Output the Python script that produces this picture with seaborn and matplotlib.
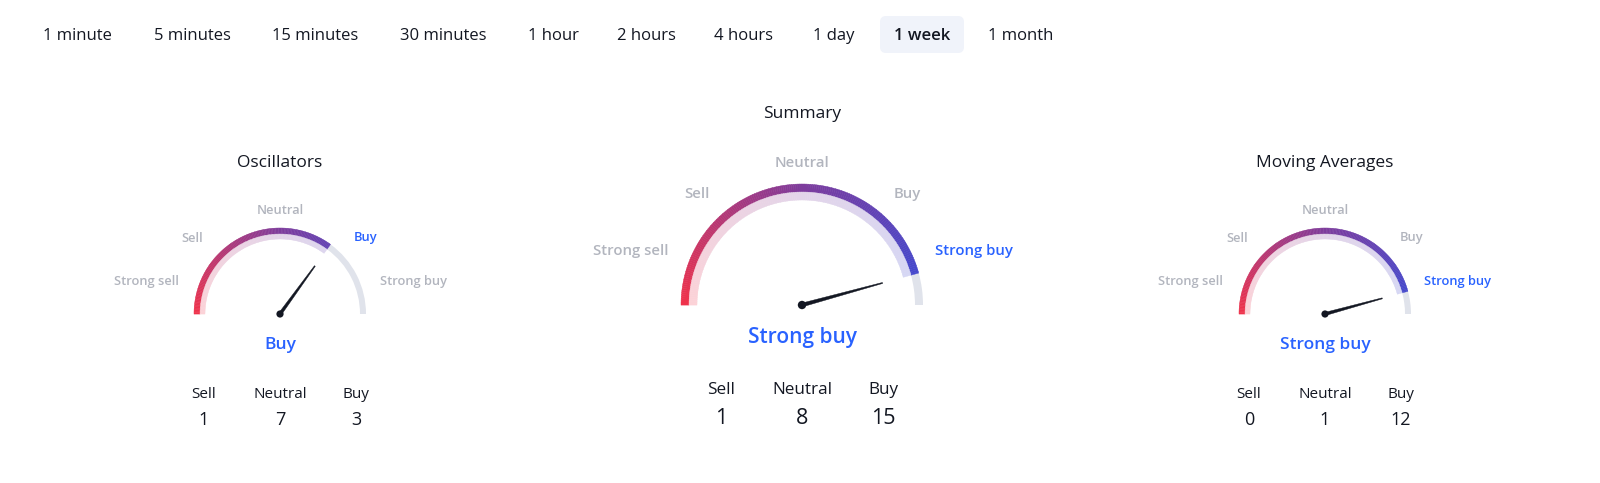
import numpy as np
import matplotlib
matplotlib.use("Agg")
import matplotlib.pyplot as plt
from matplotlib.patches import Wedge, Circle, Polygon, FancyBboxPatch
import seaborn as sns

sns.set_theme(style="white")
plt.rcParams["font.family"] = ["Open Sans", "DejaVu Sans"]

# -----------------------------
# DATA
# -----------------------------
tabs = ["1 minute", "5 minutes", "15 minutes", "30 minutes", "1 hour",
        "2 hours", "4 hours", "1 day", "1 week", "1 month"]
active_tab = "1 week"

gauge_names = ["Oscillators", "Summary", "Moving Averages"]
ratings = [0.40, 0.83, 0.83]          # -1 = strong sell ... +1 = strong buy
signals = ["Buy", "Strong buy", "Strong buy"]
sell_counts = [1, 1, 0]
neutral_counts = [7, 8, 1]
buy_counts = [3, 15, 12]
scale_labels = ["Strong sell", "Sell", "Neutral", "Buy", "Strong buy"]

# -----------------------------
# STYLE
# -----------------------------
W, H = 1600, 483
BLACK = "#131722"
GRAY = "#B2B5BE"
BLUE = "#2962FF"
TRACK = "#E0E3EB"
grad = sns.blend_palette(["#F0324A", "#7E3C9C", "#3A4BD6"], n_colors=181)
light = [tuple(0.22 * np.array(c) + 0.78) for c in grad]

tab_x = [77, 192, 315, 443, 553, 646, 744, 834, 922, 1021]

# layout of the three gauges (pixel space, y measured from top)
layouts = [
    dict(cx=280, cy=314, r=86, bw=6, iw=5, fs_lab=9.3, fs_val=12.5, fs_hdr=11, fs_cnt=13,
         title_y=163, val_y=345, hdr_y=394, cnt_y=420, col_dx=76,
         lab_pos=[(147, 281), (192, 238), (280, 210), (366, 238), (413, 281)]),
    dict(cx=802, cy=305, r=121, bw=8, iw=8, fs_lab=10.7, fs_val=15, fs_hdr=12.3, fs_cnt=15.5,
         title_y=114, val_y=337, hdr_y=390, cnt_y=419, col_dx=81,
         lab_pos=[(631, 251), (697, 194), (802, 163), (907, 194), (974, 251)]),
    dict(cx=1325, cy=314, r=86, bw=6, iw=5, fs_lab=9.3, fs_val=12.5, fs_hdr=11, fs_cnt=13,
         title_y=163, val_y=345, hdr_y=394, cnt_y=420, col_dx=76,
         lab_pos=[(1191, 281), (1237, 238), (1325, 210), (1412, 238), (1458, 281)]),
]


def Y(y):
    return H - y


fig = plt.figure(figsize=(16, 4.83), dpi=100)
ax = fig.add_axes([0, 0, 1, 1])
ax.set_xlim(0, W)
ax.set_ylim(0, H)
ax.set_aspect("equal")
ax.axis("off")

# -----------------------------
# TIMEFRAME TABS
# -----------------------------
for x, t in zip(tab_x, tabs):
    if t == active_tab:
        ax.add_patch(FancyBboxPatch((x - 42, Y(53)), 84, 37,
                                    boxstyle="round,pad=0,rounding_size=6",
                                    fc="#F0F3FA", ec="none"))
    ax.text(x, Y(36), t, ha="center", va="center", fontsize=12, color=BLACK,
            fontweight="semibold" if t == active_tab else "normal")

# -----------------------------
# GAUGES
# -----------------------------
for i, lay in enumerate(layouts):
    cx, cy, r = lay["cx"], Y(lay["cy"]), lay["r"]
    end = 90 - ratings[i] * 90           # angle where colour stops

    # grey track for the rest of the scale
    ax.add_patch(Wedge((cx, cy), r, 0, end, width=lay["bw"], fc=TRACK, ec="none"))

    # gradient: outer strong band + inner light band
    for a in range(int(np.floor(end)), 180):
        a0 = max(a, end)
        c = grad[180 - a]
        ax.add_patch(Wedge((cx, cy), r, a0, a + 1.05, width=lay["bw"],
                           fc=c, ec=c, lw=0.3))
        lc = light[180 - a]
        ax.add_patch(Wedge((cx, cy), r - lay["bw"], a0, a + 1.05, width=lay["iw"],
                           fc=lc, ec=lc, lw=0.3))

    # needle
    ang = np.deg2rad(end)
    L = 0.69 * r
    d = np.array([np.cos(ang), np.sin(ang)])
    n = np.array([-d[1], d[0]])
    base = 1.9 if i == 1 else 1.6
    pts = [(cx, cy) + n * base, (cx, cy) + d * L + n * 0.5,
           (cx, cy) + d * L - n * 0.5, (cx, cy) - n * base]
    ax.add_patch(Polygon(pts, closed=True, fc=BLACK, ec=BLACK, lw=0.3))
    ax.add_patch(Circle((cx, cy), 4.2 if i == 1 else 3.6, fc=BLACK, ec="none"))

    # title
    ax.text(lay["cx"], Y(lay["title_y"]), gauge_names[i], ha="center", va="center",
            fontsize=12.5, color=BLACK)

    # scale labels
    for lab, (lx, ly) in zip(scale_labels, lay["lab_pos"]):
        ax.text(lx, Y(ly), lab, ha="center", va="center", fontsize=lay["fs_lab"],
                color=BLUE if lab == signals[i] else GRAY, fontweight="semibold")

    # current signal
    ax.text(lay["cx"], Y(lay["val_y"]), signals[i], ha="center", va="center",
            fontsize=lay["fs_val"], color=BLUE, fontweight="semibold")

    # counts
    counts = [sell_counts[i], neutral_counts[i], buy_counts[i]]
    for k, head in enumerate(["Sell", "Neutral", "Buy"]):
        x = lay["cx"] + (k - 1) * lay["col_dx"]
        ax.text(x, Y(lay["hdr_y"]), head, ha="center", va="center",
                fontsize=lay["fs_hdr"], color=BLACK)
        ax.text(x, Y(lay["cnt_y"]), str(counts[k]), ha="center", va="center",
                fontsize=lay["fs_cnt"], color=BLACK)

fig.savefig("out.png", dpi=100, facecolor="white")
